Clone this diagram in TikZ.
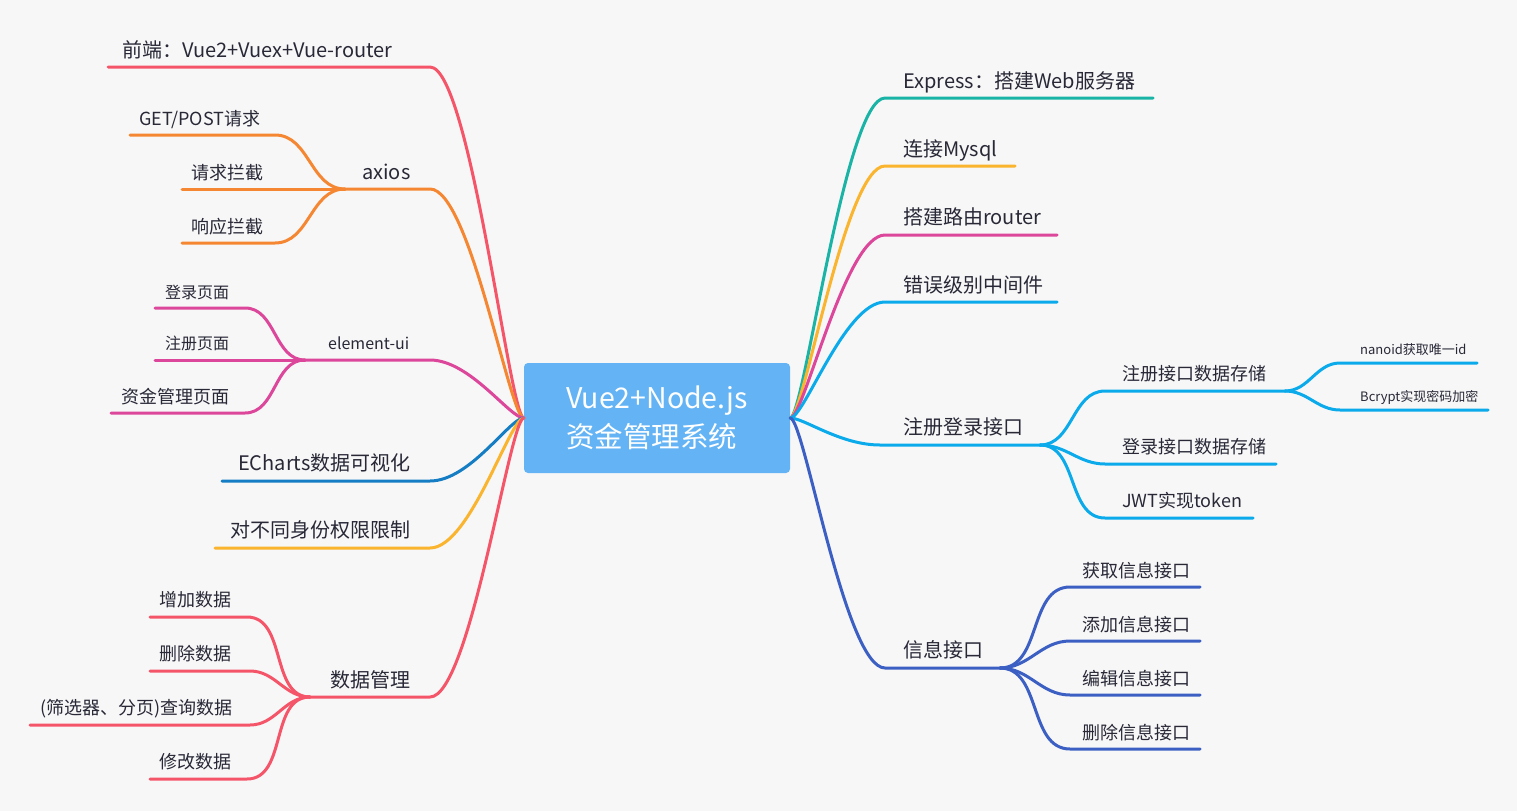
\documentclass[tikz,border=0pt]{standalone}
\usepackage{fontspec}
\setmainfont{Noto Sans CJK SC}
\definecolor{bg}{RGB}{247,247,247}
\definecolor{ink}{RGB}{40,40,55}
\definecolor{hubblue}{RGB}{100,180,245}
\definecolor{cred}{RGB}{245,85,105}
\definecolor{corange}{RGB}{245,135,50}
\definecolor{cmagenta}{RGB}{220,70,155}
\definecolor{cdeep}{RGB}{20,125,195}
\definecolor{cyellow}{RGB}{250,180,45}
\definecolor{cteal}{RGB}{25,180,165}
\definecolor{csky}{RGB}{10,170,235}
\definecolor{cindigo}{RGB}{60,95,195}
\tikzset{
  line/.style={line width=3pt, line cap=round},
  trunkL/.style={to path={.. controls +(-14,0) and +(40,0) .. (\tikztotarget)}},
  trunkR/.style={to path={.. controls +(14,0) and +(-40,0) .. (\tikztotarget)}},
  twigL/.style={out=180, in=0},
  twigR/.style={out=0, in=180},
  lbl/.style={anchor=base west, inner sep=0pt, text=ink, font=\fontsize{20}{24}\selectfont},
  sz18/.style={font=\fontsize{18}{22}\selectfont},
  sz16/.style={font=\fontsize{16}{19}\selectfont},
  sz13/.style={font=\fontsize{13}{16}\selectfont},
  hub/.style={fill=hubblue, rounded corners=4pt, minimum width=266pt, minimum height=110pt,
    inner sep=0pt, text=white, align=left, font=\fontsize{28.5}{39}\selectfont}
}
\begin{document}
\begin{tikzpicture}[x={(1pt,0)}, y={(0,-1pt)}]
\fill[bg] (0,0) rectangle (1517,811);
\useasboundingbox (0,0) rectangle (1517,811);

\node[hub] (root) at (657,418) {Vue2+Node.js\\资金管理系统};

% left side
\coordinate (front-l) at (108,67); \coordinate (front-r) at (430,67);
\node[lbl] (front) at (122,57) {前端：Vue2+Vuex+Vue-router};
\draw[line,cred] (root.west) to[trunkL] (front-r) -- (front-l);

\coordinate (axios-m) at (345,189); \coordinate (axios-r) at (430,189);
\node[lbl] (axios) at (362,179) {axios};
\draw[line,corange] (root.west) to[trunkL] (axios-r) -- (axios-m);
\coordinate (get-l) at (130,135); \coordinate (get-r) at (275,135);
\node[lbl,sz18] (get) at (139,125) {GET/POST请求};
\draw[line,corange] (axios-m) to[twigL] (get-r) -- (get-l);
\coordinate (reqi-l) at (182,189);
\node[lbl,sz18] (reqi) at (191,179) {请求拦截};
\draw[line,corange] (axios-m) -- (reqi-l);
\coordinate (resi-l) at (182,243); \coordinate (resi-r) at (275,243);
\node[lbl,sz18] (resi) at (191,233) {响应拦截};
\draw[line,corange] (axios-m) to[twigL] (resi-r) -- (resi-l);

\coordinate (ele-m) at (305,360); \coordinate (ele-r) at (430,360);
\node[lbl,sz16] (ele) at (328,349) {element-ui};
\draw[line,cmagenta] (root.west) to[trunkL] (ele-r) -- (ele-m);
\coordinate (loginp-l) at (155,308); \coordinate (loginp-r) at (245,308);
\node[lbl,sz16] (loginp) at (165,298) {登录页面};
\draw[line,cmagenta] (ele-m) to[twigL] (loginp-r) -- (loginp-l);
\coordinate (regp-l) at (155,360);
\node[lbl,sz16] (regp) at (165,349) {注册页面};
\draw[line,cmagenta] (ele-m) -- (regp-l);
\coordinate (fundp-l) at (111,413); \coordinate (fundp-r) at (245,413);
\node[lbl,sz18] (fundp) at (121,403) {资金管理页面};
\draw[line,cmagenta] (ele-m) to[twigL] (fundp-r) -- (fundp-l);

\coordinate (chart-l) at (222,481); \coordinate (chart-r) at (430,481);
\node[lbl] (chart) at (238,470) {ECharts数据可视化};
\draw[line,cdeep] (root.west) to[trunkL] (chart-r) -- (chart-l);

\coordinate (perm-l) at (215,548); \coordinate (perm-r) at (430,548);
\node[lbl] (perm) at (230,537) {对不同身份权限限制};
\draw[line,cyellow] (root.west) to[trunkL] (perm-r) -- (perm-l);

\coordinate (data-m) at (310,697); \coordinate (data-r) at (430,697);
\node[lbl] (data) at (330,687) {数据管理};
\draw[line,cred] (root.west) to[trunkL] (data-r) -- (data-m);
\coordinate (add-l) at (150,617); \coordinate (add-r) at (247,617);
\node[lbl,sz18] (add) at (159,606) {增加数据};
\draw[line,cred] (data-m) to[twigL] (add-r) -- (add-l);
\coordinate (del-l) at (150,671); \coordinate (del-r) at (250,671);
\node[lbl,sz18] (del) at (159,660) {删除数据};
\draw[line,cred] (data-m) to[twigL] (del-r) -- (del-l);
\coordinate (qry-l) at (30,725); \coordinate (qry-r) at (250,725);
\node[lbl,sz18] (qry) at (40,714) {(筛选器、分页)查询数据};
\draw[line,cred] (data-m) to[twigL] (qry-r) -- (qry-l);
\coordinate (mod-l) at (150,779); \coordinate (mod-r) at (247,779);
\node[lbl,sz18] (mod) at (159,768) {修改数据};
\draw[line,cred] (data-m) to[twigL] (mod-r) -- (mod-l);

% right side
\coordinate (exp-l) at (885,98); \coordinate (exp-r) at (1153,98);
\node[lbl] (exp) at (903,88) {Express：搭建Web服务器};
\draw[line,cteal] (root.east) to[trunkR] (exp-l) -- (exp-r);

\coordinate (sql-l) at (885,166); \coordinate (sql-r) at (1015,166);
\node[lbl] (sql) at (903,156) {连接Mysql};
\draw[line,cyellow] (root.east) to[trunkR] (sql-l) -- (sql-r);

\coordinate (route-l) at (885,235); \coordinate (route-r) at (1057,235);
\node[lbl] (route) at (903,224) {搭建路由router};
\draw[line,cmagenta] (root.east) to[trunkR] (route-l) -- (route-r);

\coordinate (errmw-l) at (885,302); \coordinate (errmw-r) at (1057,302);
\node[lbl] (errmw) at (903,292) {错误级别中间件};
\draw[line,csky] (root.east) to[trunkR] (errmw-l) -- (errmw-r);

\coordinate (auth-l) at (880,445); \coordinate (auth-m) at (1040,445);
\node[lbl] (auth) at (903,434) {注册登录接口};
\draw[line,csky] (root.east) to[trunkR] (auth-l) -- (auth-m);
\coordinate (reg-l) at (1105,391); \coordinate (reg-m) at (1285,391);
\node[lbl,sz18] (reg) at (1122,380) {注册接口数据存储};
\draw[line,csky] (auth-m) to[twigR] (reg-l) -- (reg-m);
\coordinate (nano-l) at (1340,363); \coordinate (nano-r) at (1477,363);
\node[lbl,sz13] (nano) at (1360,354) {nanoid获取唯一id};
\draw[line,csky] (reg-m) to[twigR] (nano-l) -- (nano-r);
\coordinate (bcr-l) at (1340,410); \coordinate (bcr-r) at (1488,410);
\node[lbl,sz13] (bcr) at (1360,401) {Bcrypt实现密码加密};
\draw[line,csky] (reg-m) to[twigR] (bcr-l) -- (bcr-r);
\coordinate (login-l) at (1105,464); \coordinate (login-r) at (1276,464);
\node[lbl,sz18] (login) at (1122,453) {登录接口数据存储};
\draw[line,csky] (auth-m) to[twigR] (login-l) -- (login-r);
\coordinate (jwt-l) at (1105,518); \coordinate (jwt-r) at (1253,518);
\node[lbl,sz18] (jwt) at (1122,507) {JWT实现token};
\draw[line,csky] (auth-m) to[twigR] (jwt-l) -- (jwt-r);

\coordinate (info-l) at (885,668); \coordinate (info-m) at (1000,668);
\node[lbl] (info) at (903,657) {信息接口};
\draw[line,cindigo] (root.east) to[trunkR] (info-l) -- (info-m);
\coordinate (fetch-l) at (1070,587); \coordinate (fetch-r) at (1200,587);
\node[lbl,sz18] (fetch) at (1082,577) {获取信息接口};
\draw[line,cindigo] (info-m) to[twigR] (fetch-l) -- (fetch-r);
\coordinate (put-l) at (1070,641); \coordinate (put-r) at (1200,641);
\node[lbl,sz18] (put) at (1082,631) {添加信息接口};
\draw[line,cindigo] (info-m) to[twigR] (put-l) -- (put-r);
\coordinate (edit-l) at (1070,695); \coordinate (edit-r) at (1200,695);
\node[lbl,sz18] (edit) at (1082,685) {编辑信息接口};
\draw[line,cindigo] (info-m) to[twigR] (edit-l) -- (edit-r);
\coordinate (drop-l) at (1070,749); \coordinate (drop-r) at (1200,749);
\node[lbl,sz18] (drop) at (1082,739) {删除信息接口};
\draw[line,cindigo] (info-m) to[twigR] (drop-l) -- (drop-r);
\end{tikzpicture}
\end{document}
